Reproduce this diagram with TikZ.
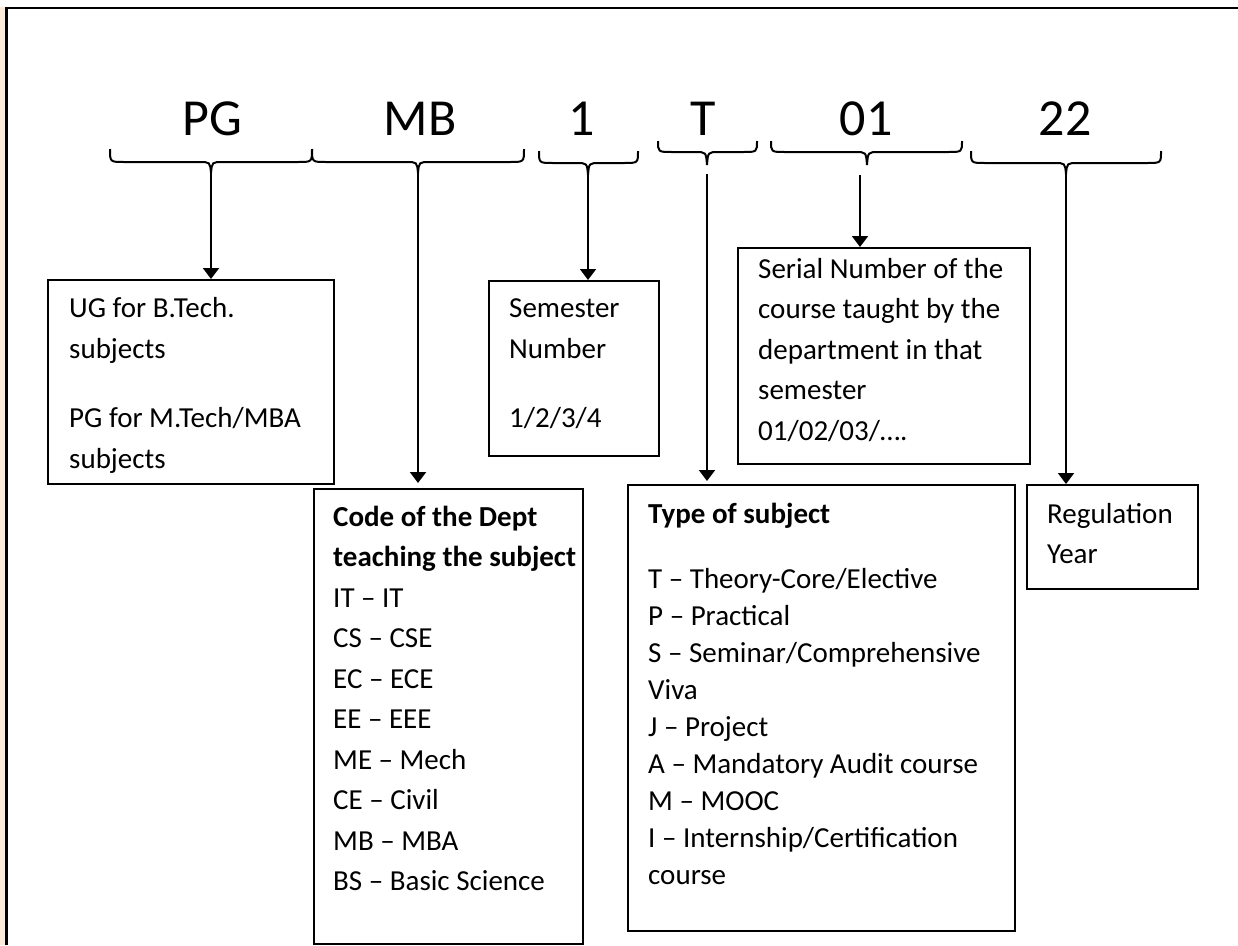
\documentclass[tikz,border=0pt]{standalone}
\usepackage{fontspec}
\setmainfont{Carlito}
\usetikzlibrary{arrows.meta}
\definecolor{peach}{RGB}{252,234,219}
\newcommand\mybrace[6]{%
  \draw[bracestyle] (#1,#4) .. controls (#1,#5) .. ({#1+14},#5) -- ({#3-12},#5)
    .. controls ({#3-1},#5) .. (#3,#6) .. controls ({#3+1},#5) .. ({#3+12},#5)
    -- ({#2-14},#5) .. controls (#2,#5) .. (#2,#4);}
\begin{document}
\begin{tikzpicture}[x=1pt,y=-1pt,
  boxst/.style={draw, line width=2pt, rectangle, inner sep=0pt, anchor=north west},
  txt/.style={anchor=base west, inner sep=0pt, align=flush left, font=\fontsize{29}{41}\selectfont},
  bigl/.style={anchor=base, inner sep=0pt, font=\fontsize{52}{60}\selectfont},
  bracestyle/.style={line width=2pt},
  arr/.style={line width=2pt, -{Triangle[width=16pt,length=11pt]}},
  framest/.style={line width=2.6pt}]
\useasboundingbox (0,0) rectangle (1238,945);
% frame
\fill[peach] (0,7) rectangle (5,945);
\draw[framest] (6.5,945) -- (6.5,8) -- (1238,8);
% big letters
\node[bigl] (lPG) at (212,135) {PG};
\node[bigl] (lMB) at (420,135) {MB};
\node[bigl] (l1) at (582,135) {1};
\node[bigl] (lT) at (703,135) {T};
\node[bigl] (l01) at (866,135) {01};
\node[bigl] (l22) at (1065,135) {22};
% braces
\mybrace{110}{312}{211}{149}{162}{173}
\mybrace{312}{524}{418}{149}{162}{173}
\mybrace{539}{638}{588}{151}{163}{175}
\mybrace{658}{757}{707}{141}{152}{165}
\mybrace{771}{962}{867}{141}{152}{165}
\mybrace{971}{1161}{1066}{151}{163}{174}
\coordinate (tPG) at (211,173);
\coordinate (tMB) at (418,173);
\coordinate (t1) at (588,175);
\coordinate (tT) at (707,174);
\coordinate (t01) at (860,175);
\coordinate (t22) at (1066,174);
% boxes
\node[boxst, minimum width=286pt, minimum height=204pt] (box1) at (47,279) {};
\node[boxst, minimum width=170pt, minimum height=175pt] (sem) at (488,280) {};
\node[boxst, minimum width=292pt, minimum height=216pt] (serial) at (737,247) {};
\node[boxst, minimum width=269pt, minimum height=455pt] (dept) at (313,488) {};
\node[boxst, minimum width=387pt, minimum height=446pt] (type) at (627,484) {};
\node[boxst, minimum width=171pt, minimum height=104pt] (reg) at (1026,484) {};
% texts
\node[txt, text width=260pt] (x1) at (69,317) {UG for B.Tech.\\ subjects\\[28pt] PG for M.Tech/MBA\\ subjects};
\node[txt, text width=145pt] (xsem) at (509,317) {Semester\\ Number\\[28pt] 1/2/3/4};
\node[txt, text width=268pt, font=\fontsize{29}{40.5}\selectfont] (xser) at (758,278) {Serial Number of the\\ course taught by the\\ department in that\\ semester\\ 01/02/03/….};
\node[txt, text width=262pt, font=\fontsize{29}{40.5}\selectfont] (xdept) at (333,526) {\textbf{Code of the Dept}\\ \textbf{teaching the subject}\\ IT – IT\\ CS – CSE\\ EC – ECE\\ EE – EEE\\ ME – Mech\\ CE – Civil\\ MB – MBA\\ BS – Basic Science};
\node[txt, text width=364pt, font=\fontsize{29}{37}\selectfont] (xtype) at (648,523) {\textbf{Type of subject}\\[28pt] T – Theory-Core/Elective\\ P – Practical\\ S – Seminar/Comprehensive\\ Viva\\ J – Project\\ A – Mandatory Audit course\\ M – MOOC\\ I – Internship/Certification\\ course};
\node[txt, text width=148pt, font=\fontsize{29}{40}\selectfont] (xreg) at (1047,523) {Regulation\\ Year};
% arrows
\draw[arr] (tPG) -- (tPG |- box1.north);
\draw[arr, shorten >=5pt] (tMB) -- (tMB |- dept.north);
\draw[arr] (t1) -- (t1 |- sem.north);
\draw[arr, shorten >=3pt] (tT) -- (tT |- type.north);
\draw[arr] (t01) -- (t01 |- serial.north);
\draw[arr] (t22) -- (t22 |- reg.north);
\end{tikzpicture}
\end{document}
